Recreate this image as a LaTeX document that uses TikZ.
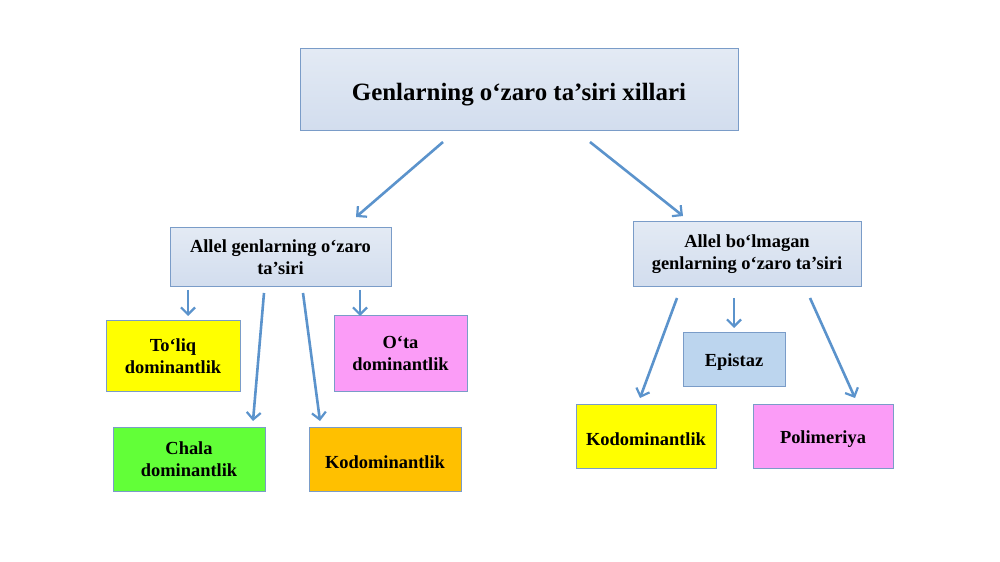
\documentclass[tikz,border=0pt]{standalone}
\usepackage{fontspec}
\setmainfont{Liberation Serif}
\usetikzlibrary{arrows.meta}
\definecolor{boxline}{HTML}{7A9CC8}
\definecolor{titlefillA}{HTML}{E3EAF4}
\definecolor{titlefillB}{HTML}{D2DDEE}
\definecolor{arrowcol}{HTML}{5B93CC}
\definecolor{yel}{HTML}{FFFF00}
\definecolor{pnk}{HTML}{FB9CF7}
\definecolor{grn}{HTML}{62FF38}
\definecolor{org}{HTML}{FFC000}
\definecolor{epi}{HTML}{BCD5EE}
\tikzset{
  x=1bp, y=-1bp,
  box/.style={draw=boxline, line width=1bp, align=center, inner sep=0pt,
    font=\bfseries\fontsize{18.5}{22}\selectfont,
    execute at begin node={\rule{0pt}{18.5bp}}},
  headbox/.style={box, top color=titlefillA, bottom color=titlefillB,
    font=\bfseries\fontsize{25}{30}\selectfont,
    execute at begin node={\rule{0pt}{27bp}}},
  subbox/.style={box, top color=titlefillA, bottom color=titlefillB},
  conn/.style={draw=arrowcol, line width=2.6bp,
    -{Straight Barb[length=7bp,width=14bp,line width=2.2bp]}}
}
\begin{document}
\begin{tikzpicture}
\useasboundingbox[fill=white] (0,0) rectangle (1000,562);

\node[headbox, minimum width=438bp, minimum height=82bp] (title) at (519,90)
  {Genlarning o‘zaro ta’siri xillari};
\node[subbox, minimum width=221bp, minimum height=59bp] (allel) at (280.5,257.5)
  {Allel genlarning o‘zaro\\ta’siri};
\node[subbox, minimum width=228bp, minimum height=65bp] (nonallel) at (747,254.5)
  {Allel bo‘lmagan\\genlarning o‘zaro ta’siri};

\node[box, fill=yel, minimum width=134bp, minimum height=70bp] (toliq) at (173,356)
  {To‘liq\\dominantlik};
\node[box, fill=pnk, minimum width=133bp, minimum height=75bp] (ota) at (400.5,353.5)
  {O‘ta\\dominantlik};
\node[box, fill=grn, minimum width=152bp, minimum height=64bp] (chala) at (189,459)
  {Chala\\dominantlik};
\node[box, fill=org, minimum width=152bp, minimum height=64bp] (kodomL) at (385,459)
  {Kodominantlik};
\node[box, fill=epi, minimum width=102bp, minimum height=53bp] (epistaz) at (734,359.5)
  {Epistaz};
\node[box, fill=yel, minimum width=140bp, minimum height=64bp] (kodomR) at (646,436)
  {Kodominantlik};
\node[box, fill=pnk, minimum width=140bp, minimum height=64bp] (polim) at (823,436)
  {Polimeriya};

% connector end points (arrows float between boxes)
\coordinate (t1s) at (443,142);  \coordinate (t1e) at (356,217);
\coordinate (t2s) at (590,142);  \coordinate (t2e) at (683,216);
\coordinate (a1s) at (188,290);  \coordinate (a1e) at (188,316);
\coordinate (a2s) at (264,293);  \coordinate (a2e) at (253,421);
\coordinate (a3s) at (303,293);  \coordinate (a3e) at (320,421);
\coordinate (a4s) at (360,290);  \coordinate (a4e) at (360,316);
\coordinate (n1s) at (677,298);  \coordinate (n1e) at (640,398);
\coordinate (n2s) at (734,298);  \coordinate (n2e) at (734,328);
\coordinate (n3s) at (810,298);  \coordinate (n3e) at (855,398);

\draw[conn] (t1s) -- (t1e);
\draw[conn] (t2s) -- (t2e);
\draw[conn] (a1s) -- (a1e);
\draw[conn] (a2s) -- (a2e);
\draw[conn] (a3s) -- (a3e);
\draw[conn] (a4s) -- (a4e);
\draw[conn] (n1s) -- (n1e);
\draw[conn] (n2s) -- (n2e);
\draw[conn] (n3s) -- (n3e);
\end{tikzpicture}
\end{document}
